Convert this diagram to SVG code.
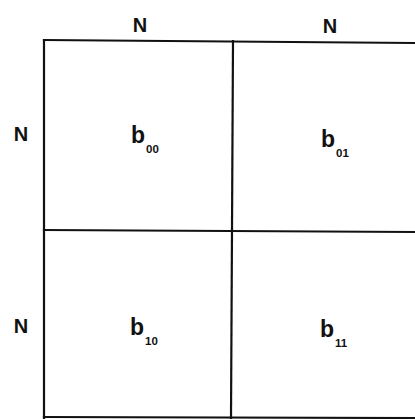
<svg xmlns="http://www.w3.org/2000/svg" width="415" height="419" viewBox="0 0 415 419">
<style>
.ln{stroke:#111;stroke-width:2.2;fill:none;stroke-linecap:square}
.lab{font-family:"Liberation Sans",Arial,sans-serif;font-weight:bold;fill:#111}
.n{font-size:20px;text-anchor:middle}
.b{font-size:23px}
.s{font-size:11.5px}
</style>
<rect width="415" height="419" fill="#fff"/>
<g id="connectors">
<line class="ln" x1="44" y1="40" x2="415" y2="43"/>
<line class="ln" x1="44" y1="230" x2="415" y2="232"/>
<line class="ln" x1="44" y1="417" x2="415" y2="418"/>
<line class="ln" x1="44" y1="40" x2="44" y2="418"/>
<line class="ln" x1="233" y1="41" x2="231" y2="418"/>
</g>
<g id="label-top-n1"><text class="lab n" x="140" y="32">N</text></g>
<g id="label-top-n2"><text class="lab n" x="330" y="33">N</text></g>
<g id="label-left-n1"><text class="lab n" x="21" y="141">N</text></g>
<g id="label-left-n2"><text class="lab n" x="21" y="333">N</text></g>
<g id="cell-b00"><text class="lab b" x="131" y="143">b<tspan class="s" dx="1" dy="10">00</tspan></text></g>
<g id="cell-b01"><text class="lab b" x="321" y="147">b<tspan class="s" dx="1" dy="10">01</tspan></text></g>
<g id="cell-b10"><text class="lab b" x="130" y="335">b<tspan class="s" dx="1" dy="10">10</tspan></text></g>
<g id="cell-b11"><text class="lab b" x="320" y="337">b<tspan class="s" dx="1" dy="10">11</tspan></text></g>
</svg>
